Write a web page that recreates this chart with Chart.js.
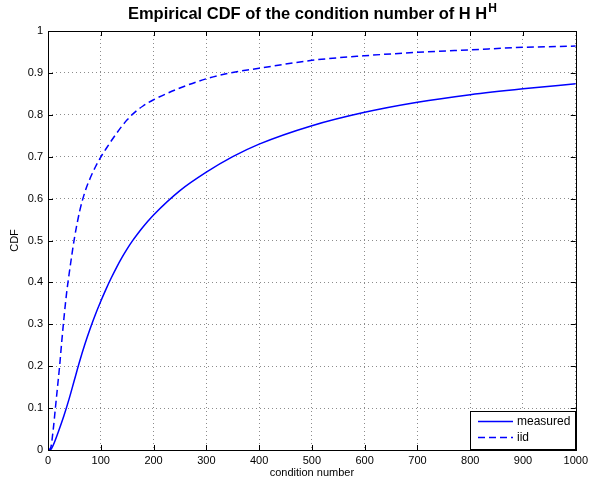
<!DOCTYPE html>
<html>
<head>
<meta charset="utf-8">
<script src="https://cdn.jsdelivr.net/npm/chart.js@4.4.1/dist/chart.umd.min.js"></script>
<style>
    html, body { margin: 0; padding: 0; background: #fff; }
    #wrap { width: 592px; height: 482px; }
</style>
</head>
<body>
<div id="wrap"><canvas id="cdfChart" width="592" height="482"></canvas></div>
<script>
// Datos
const measuredX = [0, 5, 10, 20, 30, 40, 50, 60, 70, 80, 90, 100, 110, 120, 130, 140, 150, 160, 170, 180, 190, 200, 250, 300, 350, 400, 500, 600, 700, 800, 900, 1000];
const measuredY = [0, 0.001, 0.012, 0.045, 0.081, 0.122, 0.167, 0.212, 0.253, 0.29, 0.324, 0.355, 0.384, 0.411, 0.436, 0.459, 0.48, 0.499, 0.516, 0.532, 0.547, 0.561, 0.619, 0.663, 0.7, 0.73, 0.774, 0.806, 0.83, 0.848, 0.862, 0.874];
const iidX = [0, 5, 10, 14, 18, 22, 26, 30, 35, 40, 45, 50, 60, 70, 80, 90, 100, 110, 120, 130, 140, 150, 160, 170, 180, 190, 200, 250, 300, 350, 400, 500, 600, 700, 800, 900, 1000];
const iidY = [0, 0.005, 0.05, 0.1, 0.15, 0.2, 0.258, 0.312, 0.372, 0.42, 0.464, 0.505, 0.57, 0.616, 0.649, 0.676, 0.699, 0.719, 0.738, 0.756, 0.773, 0.788, 0.801, 0.812, 0.821, 0.829, 0.836, 0.864, 0.886, 0.901, 0.911, 0.93, 0.941, 0.949, 0.955, 0.961, 0.964];
const xTicks = [0, 100, 200, 300, 400, 500, 600, 700, 800, 900, 1000];
const yTicks = [0, 0.1, 0.2, 0.3, 0.4, 0.5, 0.6, 0.7, 0.8, 0.9, 1];
const seriesLabels = ['measured', 'iid'];

const FONT = "'Liberation Sans', Arial, Helvetica, sans-serif";
const BLUE = '#0000ff';
const IID_DASH = [7, 4];

// Marco, marcas interiores, título y leyenda al estilo Matlab
const matlabDecor = {
    id: 'matlabDecor',
    afterDraw(chart) {
        const ctx = chart.ctx;
        const a = chart.chartArea;
        const xs = chart.scales.x;
        const ys = chart.scales.y;

        ctx.save();
        ctx.strokeStyle = '#000';
        ctx.lineWidth = 1;
        ctx.strokeRect(Math.round(a.left) + 0.5, Math.round(a.top) + 0.5,
            Math.round(a.right - a.left), Math.round(a.bottom - a.top));

        // marcas hacia dentro
        const tl = 5;
        ctx.beginPath();
        xTicks.forEach(v => {
            const px = Math.round(xs.getPixelForValue(v)) + 0.5;
            ctx.moveTo(px, a.bottom); ctx.lineTo(px, a.bottom - tl);
            ctx.moveTo(px, a.top); ctx.lineTo(px, a.top + tl);
        });
        yTicks.forEach(v => {
            const py = Math.round(ys.getPixelForValue(v)) + 0.5;
            ctx.moveTo(a.left, py); ctx.lineTo(a.left + tl, py);
            ctx.moveTo(a.right, py); ctx.lineTo(a.right - tl, py);
        });
        ctx.stroke();

        // título con superíndice
        const main = 'Empirical CDF of the condition number of H H';
        const sup = 'H';
        ctx.fillStyle = '#000';
        ctx.textBaseline = 'alphabetic';
        ctx.font = 'bold 16.5px ' + FONT;
        const wMain = ctx.measureText(main).width;
        ctx.font = 'bold 12px ' + FONT;
        const wSup = ctx.measureText(sup).width;
        const cx = (a.left + a.right) / 2;
        const x0 = cx - (wMain + wSup) / 2;
        ctx.textAlign = 'left';
        ctx.font = 'bold 16.5px ' + FONT;
        ctx.fillText(main, x0, 19);
        ctx.font = 'bold 12px ' + FONT;
        ctx.fillText(sup, x0 + wMain + 1, 12);

        // leyenda dentro del área
        const bx = 470, by = 411, bw = 105, bh = 38;
        ctx.fillStyle = '#fff';
        ctx.fillRect(bx, by, bw, bh);
        ctx.strokeStyle = '#000';
        ctx.lineWidth = 1;
        ctx.strokeRect(bx + 0.5, by + 0.5, bw, bh);
        ctx.font = '12px ' + FONT;
        ctx.textBaseline = 'middle';
        chart.data.datasets.forEach((ds, i) => {
            const ly = by + 10.5 + i * 16;
            ctx.strokeStyle = BLUE;
            ctx.lineWidth = 1.3;
            ctx.setLineDash(i === 1 ? IID_DASH : []);
            ctx.beginPath();
            ctx.moveTo(bx + 8, ly);
            ctx.lineTo(bx + 43, ly);
            ctx.stroke();
            ctx.setLineDash([]);
            ctx.fillStyle = '#000';
            ctx.fillText(ds.label, bx + 47, ly);
        });
        ctx.restore();
    }
};

const gridCommon = {
    color: 'rgba(0, 0, 0, 0.45)',
    drawTicks: false
};

new Chart(document.getElementById('cdfChart').getContext('2d'), {
    type: 'line',
    data: {
        datasets: [
            {
                label: seriesLabels[0],
                data: measuredX.map((x, i) => ({ x: x, y: measuredY[i] })),
                borderColor: BLUE,
                borderWidth: 1.5,
                pointRadius: 0,
                cubicInterpolationMode: 'monotone',
                fill: false
            },
            {
                label: seriesLabels[1],
                data: iidX.map((x, i) => ({ x: x, y: iidY[i] })),
                borderColor: BLUE,
                borderWidth: 1.5,
                borderDash: IID_DASH,
                pointRadius: 0,
                cubicInterpolationMode: 'monotone',
                fill: false
            }
        ]
    },
    options: {
        responsive: false,
        animation: false,
        layout: {
            padding: { left: 0, right: 15, top: 31, bottom: 0 }
        },
        plugins: {
            legend: { display: false },
            title: { display: false },
            tooltip: { enabled: false }
        },
        scales: {
            x: {
                type: 'linear',
                min: 0,
                max: 1000,
                afterBuildTicks: s => { s.ticks = xTicks.map(v => ({ value: v })); },
                afterFit: s => { s.height = 32; },
                grid: gridCommon,
                border: { display: false, dash: [1, 3] },
                ticks: {
                    color: '#000',
                    padding: 4,
                    maxRotation: 0,
                    font: { family: FONT, size: 11 },
                    callback: v => String(v)
                },
                title: {
                    display: true,
                    text: 'condition number',
                    color: '#000',
                    font: { family: FONT, size: 11 },
                    padding: { top: 0, bottom: 2 }
                }
            },
            y: {
                type: 'linear',
                min: 0,
                max: 1,
                afterBuildTicks: s => { s.ticks = yTicks.map(v => ({ value: v })); },
                afterFit: s => { s.width = 48; },
                grid: gridCommon,
                border: { display: false, dash: [1, 3] },
                ticks: {
                    color: '#000',
                    padding: 5,
                    font: { family: FONT, size: 11 },
                    callback: v => String(Math.round(v * 10) / 10)
                },
                title: {
                    display: true,
                    text: 'CDF',
                    color: '#000',
                    font: { family: FONT, size: 11 },
                    padding: { top: 8, bottom: 0 }
                }
            }
        }
    },
    plugins: [matlabDecor]
});
</script>
</body>
</html>
